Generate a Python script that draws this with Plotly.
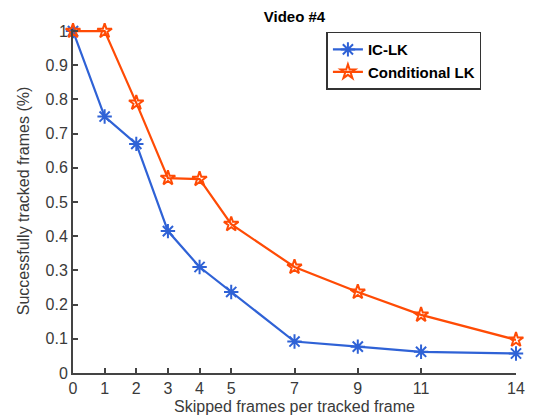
import plotly.graph_objects as go

# data
skipped = [0, 1, 2, 3, 4, 5, 7, 9, 11, 14]
ic_lk = [1.0, 0.75, 0.67, 0.415, 0.31, 0.237, 0.092, 0.077, 0.062, 0.057]
cond_lk = [1.0, 1.0, 0.79, 0.57, 0.567, 0.435, 0.31, 0.237, 0.17, 0.097]
y_ticks = [0, 0.1, 0.2, 0.3, 0.4, 0.5, 0.6, 0.7, 0.8, 0.9, 1]
y_labels = ['0', '0.1', '0.2', '0.3', '0.4', '0.5', '0.6', '0.7', '0.8', '0.9', '1']

blue = '#2F62D6'
orange = '#FF4B05'

fig = go.Figure()

fig.add_trace(go.Scatter(
    x=skipped, y=ic_lk,
    mode='lines+markers',
    name='<b>IC-LK</b>',
    line=dict(color=blue, width=2.2),
    marker=dict(symbol='asterisk-open', size=12, line=dict(color=blue, width=2)),
    cliponaxis=False
))

fig.add_trace(go.Scatter(
    x=skipped, y=cond_lk,
    mode='lines+markers',
    name='<b>Conditional LK</b>',
    line=dict(color=orange, width=2.2),
    marker=dict(symbol='star-open', size=11, line=dict(color=orange, width=2)),
    cliponaxis=False
))

axis_font = dict(family='Liberation Sans, Arial, sans-serif', size=16, color='#3a3a3a')

# the page puts the figure 8px in from the corner, margins allow for that
fig.update_layout(
    width=560, height=420,
    paper_bgcolor='white', plot_bgcolor='white',
    margin=dict(l=65, r=52, t=21, b=55),
    title=dict(text='<b>Video #4</b>', x=0.5, xref='paper', xanchor='center',
               y=0.979, yref='container', yanchor='middle',
               font=dict(family='Liberation Sans, Arial, sans-serif', size=15, color='black')),
    font=axis_font,
    showlegend=True,
    legend=dict(x=0.747, y=0.908, xanchor='center', yanchor='middle',
                bordercolor='#333333', borderwidth=1.5, bgcolor='white',
                font=dict(family='Liberation Sans, Arial, sans-serif', size=15, color='black'),
                tracegroupgap=0, itemwidth=30),
    xaxis=dict(
        range=[0, 14], tickvals=skipped, ticktext=[str(v) for v in skipped],
        ticks='inside', ticklen=5, tickcolor='#444444', tickwidth=1.5,
        showline=True, linecolor='#444444', linewidth=2,
        showgrid=False, zeroline=False, automargin=False,
        title=dict(text='Skipped frames per tracked frame', standoff=5, font=axis_font),
        tickfont=axis_font
    ),
    yaxis=dict(
        range=[0, 1.006], tickvals=y_ticks, ticktext=y_labels,
        ticks='inside', ticklen=5, tickcolor='#444444', tickwidth=1.5,
        showline=True, linecolor='#444444', linewidth=2,
        showgrid=False, zeroline=False, automargin=False,
        title=dict(text='Successfully tracked frames (%)', standoff=12, font=axis_font),
        tickfont=axis_font
    )
)

fig.write_html("out.html")
